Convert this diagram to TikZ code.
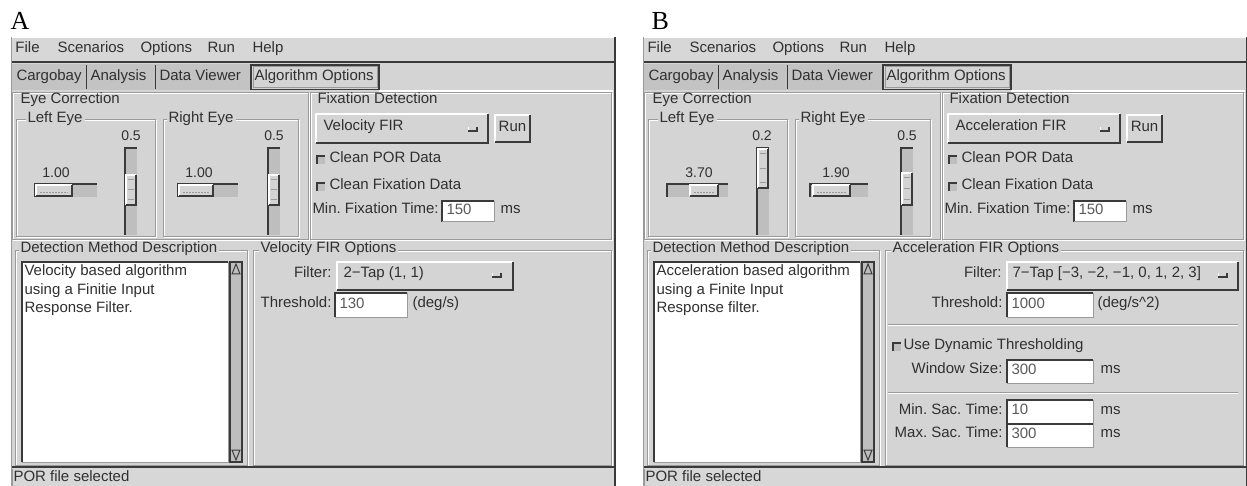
\documentclass[tikz,border=0pt]{standalone}
\usepackage{fontspec}
\setmainfont{Liberation Sans}
\newfontfamily\labelserif{Liberation Serif}
\frenchspacing

\definecolor{guibg}{HTML}{D4D4D4}
\definecolor{guimenu}{HTML}{D7D7D7}
\definecolor{guitab}{HTML}{C3C3C3}
\definecolor{guitrough}{HTML}{BEBEBE}
\definecolor{guidark}{HTML}{3A3A3A}
\definecolor{guiedge}{HTML}{9A9A9A}
\definecolor{guitext}{HTML}{303030}
\definecolor{fieldtext}{HTML}{5A5A5A}

\newcommand\guifont{\fontsize{15}{18}\selectfont}

\tikzset{
  gt/.style={inner sep=0pt, anchor=mid west, font=\guifont, text=guitext},
  gtr/.style={gt, anchor=mid east},
  gtc/.style={gt, anchor=mid},
  ft/.style={gt, text=fieldtext},
  ttl/.style={gt, fill=guibg, inner xsep=2pt, inner ysep=1pt},
  slab/.style={gtc, font=\fontsize{14}{16}\selectfont},
  panel/.style={inner sep=0pt, anchor=base west, font=\labelserif\fontsize{26}{30}\selectfont, text=black},
}

% white entry field, sunken
\newcommand\gSunken[4]{%
  \fill[white] (#1,#2) rectangle (#3,#4);
  \draw[guidark, line width=1.6] (#1,#4) -- (#1,#2) -- (#3,#2);
  \draw[guiedge] (#3,#2) -- (#3,#4) -- (#1,#4);}
% raised button face
\newcommand\gRaised[4]{%
  \fill[guibg] (#1,#2) rectangle (#3,#4);
  \draw[white, line width=1.2] (#1,#4) -- (#1,#2) -- (#3,#2);
  \draw[guidark, line width=1.4] (#3,#2) -- (#3,#4) -- (#1,#4);}
% etched group frame
\newcommand\gEtched[4]{%
  \draw[white] (#1+1,#2+1) rectangle (#3+1,#4+1);
  \draw[guiedge] (#1,#2) rectangle (#3,#4);}
% etched separator
\newcommand\gHsep[3]{%
  \draw[guiedge] (#1,#3) -- (#2,#3);
  \draw[white] (#1,#3+1) -- (#2,#3+1);}
% option-menu mark
\newcommand\gIndicator[2]{%
  \draw[white] (#1,#2+4) -- (#1,#2+1);
  \draw[guidark, line width=1.5] (#1,#2+5) -- (#1+9,#2+5) -- (#1+9,#2+1);}
% toggle indicator
\newcommand\gCheck[2]{%
  \fill[guitrough] (#1,#2) rectangle (#1+8,#2+8);
  \draw[guidark, line width=1.6] (#1,#2+8) -- (#1,#2) -- (#1+8,#2);}
% horizontal slider: x1 x2 y1 y2 thumb-x1 thumb-x2
\newcommand\gHslider[6]{%
  \fill[guitrough] (#1,#3) rectangle (#2,#4);
  \draw[guidark, line width=1.3] (#1,#4) -- (#1,#3) -- (#2,#3);
  \gRaised{#5}{#3+1}{#6}{#4-1}
  \draw[guiedge, dash pattern=on 1.5pt off 1.5pt] (#5+4,{(#3+#4)/2+2}) -- (#6-4,{(#3+#4)/2+2});}
% vertical slider: x1 x2 y1 y2 thumb-y1 thumb-y2
\newcommand\gVslider[6]{%
  \fill[guitrough] (#1,#3) rectangle (#2,#4);
  \draw[guidark, line width=1.3] (#1,#4) -- (#1,#3) -- (#2,#3);
  \gRaised{#1+1}{#5}{#2-1}{#6}
  \draw[guiedge] (#1+3,{(#5+#6)/2}) -- (#2-3,{(#5+#6)/2});
  \draw[guiedge] (#1+3,#5+5) -- (#2-3,#5+5) (#1+3,#6-5) -- (#2-3,#6-5);}
% vertical scroll bar
\newcommand\gScroll[4]{%
  \fill[guitrough] (#1,#3) rectangle (#2,#4);
  \draw[guidark, line width=1.2] (#1,#3) rectangle (#2,#4);
  \draw[guidark] (#1+2,#3+12) -- ({(#1+#2)/2},#3+2) -- (#2-2,#3+12) -- cycle;
  \draw[guidark] (#1+2,#4-12) -- ({(#1+#2)/2},#4-2) -- (#2-2,#4-12) -- cycle;}

% the common window: prefix, method name, options group title
\newcommand\gWindow[3]{%
  \fill[guibg] (11,37) rectangle (615,486);
  % menu bar
  \fill[guimenu] (11,37) rectangle (615,61);
  \draw[white] (11,37.5) -- (615,37.5);
  \draw[guidark, line width=2] (11,62) -- (615,62);
  \node[gt] (#1file) at (15,50) {File};
  \node[gt] (#1scen) at (57,50) {Scenarios};
  \node[gt] (#1opt) at (140,50) {Options};
  \node[gt] (#1run) at (207,50) {Run};
  \node[gt] (#1help) at (252,50) {Help};
  % tab row
  \fill[guitab] (11,64) rectangle (251,90);
  \draw[guidark, line width=1.6] (86.5,65) -- (86.5,89) (155.5,65) -- (155.5,89);
  \draw[guidark, line width=1.4] (251,65) rectangle (379,89.5);
  \draw[guiedge] (253,67) rectangle (377,87.5);
  \node[gt] (#1tcargo) at (16,78) {Cargobay};
  \node[gt] (#1tana) at (90,78) {Analysis};
  \node[gt] (#1tdata) at (159,78) {Data Viewer};
  \node[gt] (#1talg) at (254,78) {Algorithm Options};
  \draw[white, line width=1.4] (379,91) -- (613,91);
  % eye correction
  \gEtched{12}{93}{308}{240}
  \node[gt] (#1eye) at (20,101) {Eye Correction};
  \gEtched{16}{120}{155}{237}
  \node[ttl] (#1left) at (25,120) {Left Eye};
  \gEtched{163}{120}{298}{237}
  \node[ttl] (#1right) at (166,120) {Right Eye};
  % fixation detection
  \gEtched{310}{93}{611}{240}
  \node[gt] (#1fix) at (317,101) {Fixation Detection};
  \gRaised{316}{114}{488}{143}
  \node[gt] (#1method) at (323,128) {#2};
  \gIndicator{468}{126}
  \gRaised{495}{115}{530}{142}
  \node[gtc] (#1runbtn) at (512.5,128.5) {Run};
  \gCheck{317}{156}
  \node[gt] (#1cpor) at (329,160) {Clean POR Data};
  \gCheck{317}{183}
  \node[gt] (#1cfix) at (329,187) {Clean Fixation Data};
  \node[gt] (#1minfix) at (312,211) {Min. Fixation Time:};
  \gSunken{442}{201}{494}{222}
  \node[ft] (#1minfixv) at (446,211.5) {150};
  \node[gt] (#1minfixu) at (500,211) {ms};
  % description
  \gEtched{15}{251}{247}{465}
  \node[ttl] (#1desc) at (18,250) {Detection Method Description};
  \gSunken{22}{262}{228}{462}
  \gScroll{230}{242}{262}{462}
  % options group
  \gEtched{253}{251}{611}{465}
  \node[ttl] (#1opts) at (258,250) {#3};
  % status bar
  \draw[guidark, line width=2] (11,467) -- (615,467);
  \fill[guimenu] (11,468) rectangle (615,486);
  \draw[guiedge] (12,469) -- (12,486);
  \node[gt] (#1status) at (13,479) {POR file selected};
  % window edges
  \draw[guidark, line width=1.6] (615,37) -- (615,486);
  \draw[guiedge] (11,37) -- (11,486);
}

\begin{document}
\begin{tikzpicture}[x=1pt, y=-1pt, line width=1pt]
\useasboundingbox (0,0) rectangle (1247,486);

% ---------------- panel A: velocity FIR ----------------
\node[panel] (labA) at (10,30) {A};
\begin{scope}
  \gWindow{a}{Velocity FIR}{Velocity FIR Options}
  \node[slab] (alh) at (56,175) {1.00};
  \gHslider{35}{97}{184}{197}{36}{72}
  \node[slab] (alv) at (131,138) {0.5};
  \gVslider{125}{137}{148}{235}{175}{205}
  \node[slab] (arh) at (199,175) {1.00};
  \gHslider{178}{238}{184}{197}{179}{213}
  \node[slab] (arv) at (274,138) {0.5};
  \gVslider{268}{280}{148}{235}{175}{205}
  \node[gt] (ad1) at (24,273) {Velocity based algorithm};
  \node[gt] (ad2) at (24,291.5) {using a Finitie Input};
  \node[gt] (ad3) at (24,310) {Response Filter.};
  \node[gtr] (afilt) at (332,275) {Filter:};
  \gRaised{337}{262}{513}{290}
  \node[gt] (afiltv) at (343,275) {2−Tap (1, 1)};
  \gIndicator{492}{272}
  \node[gtr] (athr) at (332,305) {Threshold:};
  \gSunken{335}{293}{407}{317}
  \node[ft] (athrv) at (339,305.5) {130};
  \node[gt] (athru) at (412,305) {(deg/s)};
\end{scope}

% ---------------- panel B: acceleration FIR ----------------
\node[panel] (labB) at (651,30) {B};
\begin{scope}[xshift=632pt]
  \gWindow{b}{Acceleration FIR}{Acceleration FIR Options}
  \node[slab] (blh) at (67,175) {3.70};
  \gHslider{35}{96}{184}{197}{58}{86}
  \node[slab] (blv) at (130,138) {0.2};
  \gVslider{125}{137}{148}{235}{149}{188}
  \node[slab] (brh) at (204,175) {1.90};
  \gHslider{178}{236}{184}{197}{181}{218}
  \node[slab] (brv) at (275,138) {0.5};
  \gVslider{269}{281}{148}{235}{173}{205}
  \node[gt] (bd1) at (24,273) {Acceleration based algorithm};
  \node[gt] (bd2) at (24,291.5) {using a Finite Input};
  \node[gt] (bd3) at (24,310) {Response filter.};
  \node[gtr] (bfilt) at (370,275) {Filter:};
  \gRaised{375}{262}{606}{290}
  \node[gt] (bfiltv) at (380,275) {7−Tap [−3, −2, −1, 0, 1, 2, 3]};
  \gIndicator{586}{272}
  \node[gtr] (bthr) at (371,305) {Threshold:};
  \gSunken{375}{293}{461}{317}
  \node[ft] (bthrv) at (379,305.5) {1000};
  \node[gt] (bthru) at (465,305) {(deg/s\textasciicircum 2)};
  \gHsep{256}{606}{324}
  \gCheck{261}{343}
  \node[gt] (bdyn) at (271,347) {Use Dynamic Thresholding};
  \node[gtr] (bwin) at (371,371) {Window Size:};
  \gSunken{375}{360}{461}{383}
  \node[ft] (bwinv) at (379,371.5) {300};
  \node[gt] (bwinu) at (468,371) {ms};
  \gHsep{256}{606}{392}
  \node[gtr] (bmin) at (371,412) {Min. Sac. Time:};
  \gSunken{375}{400}{461}{423}
  \node[ft] (bminv) at (379,412) {10};
  \node[gt] (bminu) at (468,412) {ms};
  \node[gtr] (bmax) at (371,435) {Max. Sac. Time:};
  \gSunken{375}{424}{461}{447}
  \node[ft] (bmaxv) at (379,435.5) {300};
  \node[gt] (bmaxu) at (468,435) {ms};
\end{scope}
\end{tikzpicture}
\end{document}
